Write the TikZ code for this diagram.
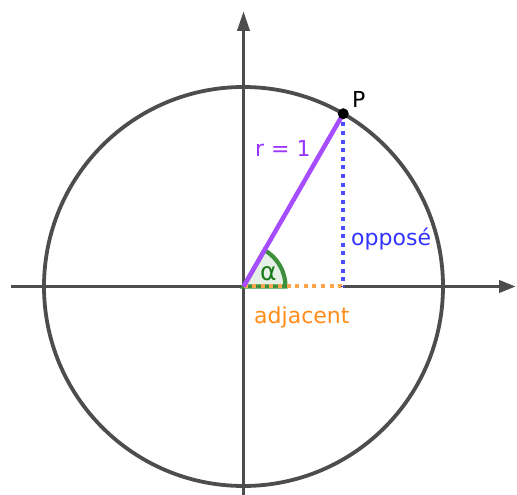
\documentclass[tikz,border=0pt]{standalone}
\usepackage{fontspec}
\setmainfont{DejaVu Sans}
\usetikzlibrary{arrows.meta,calc}
\definecolor{axisgray}{HTML}{4D4D4D}
\definecolor{rpurple}{HTML}{A64DFF}
\definecolor{rpurpletxt}{HTML}{9933FF}
\definecolor{oblue}{HTML}{4D4DFF}
\definecolor{obluetxt}{HTML}{3333FF}
\definecolor{aorange}{HTML}{FFA64D}
\definecolor{aorangetxt}{HTML}{FF8C1A}
\definecolor{agreen}{HTML}{3D8F3D}
\definecolor{agreentxt}{HTML}{1A7A1A}
\definecolor{agreenfill}{HTML}{E6F0E6}
\begin{document}
\begin{tikzpicture}[x=1pt,y=1pt,
  axisline/.style={draw=axisgray, line width=3.8pt},
  dotline/.style={line width=4pt, dash pattern=on 4pt off 4.6pt},
  lbl/.style={inner sep=0pt, anchor=base west, font=\fontsize{22}{26}\selectfont}]
\useasboundingbox (0,0) rectangle (517,495);
\coordinate (C) at (243.5,208.5);
\coordinate (P) at ($(C)+(60:199.5)$);
\coordinate (F) at (P |- C);
\coordinate (L) at (11,208.5);
\coordinate (R) at (516,208.5);
\coordinate (B) at (243.5,0);
\coordinate (T) at (243.5,484);
% axes
\draw[axisline] (L) -- (C);
\draw[axisline, -{Triangle[length=17pt,width=12pt]}] (F) -- (R);
\draw[axisline, -{Triangle[length=20pt,width=12pt]}] (B) -- (T);
% circle
\draw[axisgray, line width=3.8pt] (C) circle[radius=199.5];
% angle sector
\filldraw[fill=agreenfill, draw=agreen, line width=4.2pt] (C) -- ++(42,0) arc[start angle=0, end angle=60, radius=42] -- cycle;
% adjacent
\draw[aorange, dotline] (C) -- (F);
% radius
\draw[rpurple, line width=4.5pt] (C) -- (P);
% opposite
\draw[oblue, dotline] (P) -- (F);
% point
\fill[black] (P) circle[radius=5.5];
% labels
\node[lbl, text=black] (lP) at (352,387) {P};
\node[lbl, text=rpurpletxt] (lr) at (255,338) {r = 1};
\node[lbl, text=obluetxt] (lo) at (351,249) {opposé};
\node[lbl, text=aorangetxt] (la) at (254,171) {adjacent};
\node[lbl, text=agreentxt, font=\fontsize{25}{28}\selectfont] (lal) at (260,214) {α};
\end{tikzpicture}
\end{document}
